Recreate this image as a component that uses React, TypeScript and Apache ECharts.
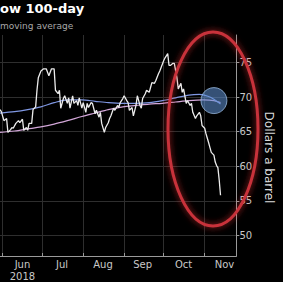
import React, { useEffect, useRef } from "react";
import * as echarts from "echarts";

const priceDates = [
  "2018-05-30","2018-05-31","2018-06-02","2018-06-04","2018-06-05","2018-06-07","2018-06-08","2018-06-09",
  "2018-06-11","2018-06-13","2018-06-14","2018-06-16","2018-06-17","2018-06-19","2018-06-20","2018-06-21",
  "2018-06-23","2018-06-24","2018-06-26","2018-06-27","2018-06-28","2018-06-30","2018-07-02","2018-07-04",
  "2018-07-06","2018-07-08","2018-07-10","2018-07-11","2018-07-13","2018-07-14","2018-07-15","2018-07-17",
  "2018-07-18","2018-07-20","2018-07-21","2018-07-22","2018-07-24","2018-07-25","2018-07-27","2018-07-28",
  "2018-07-29","2018-07-31","2018-08-01","2018-08-03","2018-08-04","2018-08-05","2018-08-07","2018-08-08",
  "2018-08-10","2018-08-11","2018-08-13","2018-08-14","2018-08-15","2018-08-17","2018-08-18","2018-08-20",
  "2018-08-21","2018-08-22","2018-08-24","2018-08-25","2018-08-27","2018-08-28","2018-08-29","2018-08-31",
  "2018-09-01","2018-09-03","2018-09-04","2018-09-05","2018-09-07","2018-09-08","2018-09-10","2018-09-11",
  "2018-09-13","2018-09-14","2018-09-15","2018-09-17","2018-09-18","2018-09-20","2018-09-21","2018-09-22",
  "2018-09-24","2018-09-25","2018-09-27","2018-09-28","2018-09-29","2018-10-01","2018-10-02","2018-10-04",
  "2018-10-05","2018-10-06","2018-10-08","2018-10-09","2018-10-11","2018-10-12","2018-10-14","2018-10-15",
  "2018-10-16","2018-10-18","2018-10-19","2018-10-21","2018-10-22","2018-10-23","2018-10-25","2018-10-26",
  "2018-10-28","2018-10-29","2018-10-30","2018-11-01","2018-11-02","2018-11-04","2018-11-05","2018-11-06",
  "2018-11-08","2018-11-09","2018-11-10","2018-11-11","2018-11-12","2018-11-13",
];
const price = [
  68.2, 67.9, 66.6, 66.9, 64.9, 65.3, 65.6, 65.5,
  66.2, 66.6, 66.3, 66.8, 65.2, 65.6, 65.2, 66.2,
  66.2, 68.2, 68.6, 71.0, 72.8, 73.8, 74.1, 74.1,
  73.1, 74.1, 74.1, 71.0, 70.5, 71.0, 68.4, 69.8,
  70.2, 69.1, 69.9, 68.4, 70.2, 69.1, 69.5, 68.8,
  69.9, 68.4, 69.2, 67.8, 69.1, 68.5, 69.2, 69.1,
  67.6, 68.1, 67.1, 67.8, 66.2, 64.9, 65.6, 66.3,
  66.9, 67.3, 68.4, 68.1, 68.8, 68.5, 69.2, 69.8,
  70.2, 69.5, 69.2, 68.1, 68.5, 67.3, 68.8, 70.2,
  68.8, 68.4, 69.8, 70.5, 71.0, 70.7, 71.4, 72.1,
  72.0, 72.4, 73.4, 73.8, 74.3, 75.3, 75.7, 76.3,
  74.6, 74.6, 74.9, 74.9, 72.8, 71.2, 72.0, 70.7,
  71.2, 69.1, 69.5, 68.8, 69.1, 67.8, 66.9, 67.3,
  67.8, 67.3, 65.9, 65.5, 64.7, 63.4, 62.7, 62.0,
  61.6, 60.6, 60.1, 59.8, 58.0, 55.8,
];

const ma50Dates = [
  "2018-05-30","2018-06-10","2018-06-20","2018-06-30","2018-07-10","2018-07-20","2018-07-31","2018-08-10",
  "2018-08-20","2018-08-31","2018-09-10","2018-09-20","2018-09-30","2018-10-10","2018-10-20","2018-10-28",
  "2018-11-04","2018-11-08","2018-11-13",
];
const ma50 = [
  67.7, 67.9, 68.2, 68.6, 69.2, 69.6, 69.6, 69.4,
  69.2, 69.1, 69.1, 69.2, 69.5, 69.9, 70.3, 70.4,
  70.1, 69.7, 69.0,
];

const ma100Dates = [
  "2018-05-30","2018-06-10","2018-06-20","2018-06-30","2018-07-10","2018-07-20","2018-07-31","2018-08-10",
  "2018-08-20","2018-08-31","2018-09-10","2018-09-20","2018-09-30","2018-10-10","2018-10-20","2018-10-31",
  "2018-11-08","2018-11-13",
];
const ma100 = [
  64.9, 65.1, 65.4, 65.7, 66.1, 66.6, 67.2, 67.7,
  68.2, 68.6, 68.8, 69.0, 69.1, 69.3, 69.5, 69.6,
  69.5, 69.2,
];

const monthStarts = ["2018-06-01","2018-07-01","2018-08-01","2018-09-01","2018-10-01","2018-11-01"];
const monthLabelDates = ["2018-06-16","2018-07-16","2018-08-16","2018-09-15","2018-10-16","2018-11-16"];
const monthLabels = ["Jun\n2018", "Jul", "Aug", "Sep", "Oct", "Nov"];
const yTicks = [50, 55, 60, 65, 70, 75];
const highlightDate = "2018-11-08";
const highlightValue = 69.5;
const xRange = ["2018-05-30", "2018-11-25"];
const titleText = "ow 100-day";
const subtitleText = "moving average";

const ts = (s: string) => +echarts.time.parse(s);

export default function App() {
  const ref = useRef<HTMLDivElement>(null);
  useEffect(() => {
    if (!ref.current) return;
    const chart = echarts.init(ref.current, null, { renderer: "svg" });
    const font = "'DejaVu Sans', sans-serif";
    const labelTs = monthLabelDates.map(ts);
    chart.setOption({
      animation: false,
      backgroundColor: "#000",
      grid: { left: 0, right: 31, top: 35, bottom: 26, containLabel: false },
      xAxis: {
        type: "value",
        min: ts(xRange[0]),
        max: ts(xRange[1]),
        axisLine: { show: true, onZero: false, lineStyle: { color: "#9a9a9a", width: 1 } },
        axisTick: { show: true, customValues: monthStarts.map(ts), length: 3, inside: true, lineStyle: { color: "#9a9a9a" } },
        splitLine: { show: true, lineStyle: { color: "#2e2e2e", width: 1 } },
        axisLabel: {
          show: true,
          customValues: labelTs,
          color: "#c8c8c8",
          fontSize: 10,
          lineHeight: 12,
          fontFamily: font,
          margin: 2,
          formatter: (val: number) => {
            const i = labelTs.indexOf(val);
            return i >= 0 ? monthLabels[i] : "";
          },
        },
      },
      yAxis: {
        type: "value",
        position: "right",
        min: 47,
        max: 79,
        name: "Dollars a barrel",
        nameLocation: "middle",
        nameGap: 25,
        nameRotate: -90,
        nameTextStyle: { color: "#dcdcdc", fontSize: 12, fontFamily: font, padding: [0, 0, 0, 24] },
        axisLine: { show: true, lineStyle: { color: "#9a9a9a", width: 1 } },
        axisTick: { show: true, customValues: yTicks, length: 3, lineStyle: { color: "#9a9a9a" } },
        splitLine: { show: true, lineStyle: { color: "#2e2e2e", width: 1 } },
        axisLabel: { customValues: yTicks, color: "#c8c8c8", fontSize: 10, fontFamily: font, margin: 3 },
      },
      series: [
        {
          type: "line",
          data: ma100Dates.map((d, i) => [ts(d), ma100[i]]),
          showSymbol: false,
          smooth: 0.3,
          lineStyle: { color: "#d2a6d8", width: 1.2 },
          z: 2,
        },
        {
          type: "line",
          data: ma50Dates.map((d, i) => [ts(d), ma50[i]]),
          showSymbol: false,
          smooth: 0.3,
          lineStyle: { color: "#7f97e2", width: 1.2 },
          z: 3,
        },
        {
          type: "line",
          data: priceDates.map((d, i) => [ts(d), price[i]]),
          showSymbol: false,
          lineStyle: { color: "#ececec", width: 1.3 },
          z: 4,
        },
        {
          type: "scatter",
          data: [[ts(highlightDate), highlightValue]],
          symbolSize: 26,
          itemStyle: { color: "rgba(95,145,210,0.7)", borderColor: "rgba(165,200,240,0.9)", borderWidth: 1 },
          z: 5,
        },
      ],
      graphic: [
        {
          type: "text",
          x: 0,
          y: 8,
          style: {
            text: titleText,
            fill: "#ffffff",
            font: "bold 13px 'DejaVu Sans', sans-serif",
            align: "left",
            verticalAlign: "middle",
          },
        },
        {
          type: "text",
          x: 0,
          y: 26,
          style: {
            text: subtitleText,
            fill: "#a8a8a8",
            font: "9px 'DejaVu Sans', sans-serif",
            align: "left",
            verticalAlign: "middle",
          },
        },
        {
          type: "ellipse",
          shape: { cx: 213, cy: 129, rx: 45, ry: 97 },
          style: {
            fill: "none",
            stroke: "#c8323a",
            lineWidth: 3,
            shadowBlur: 6,
            shadowColor: "rgba(255,50,50,0.7)",
          },
          z: 100,
        },
      ],
    });
    return () => chart.dispose();
  }, []);
  return (
    <div
      ref={ref}
      style={{ position: "fixed", left: 0, top: 0, width: 283, height: 282, background: "#000" }}
    />
  );
}
